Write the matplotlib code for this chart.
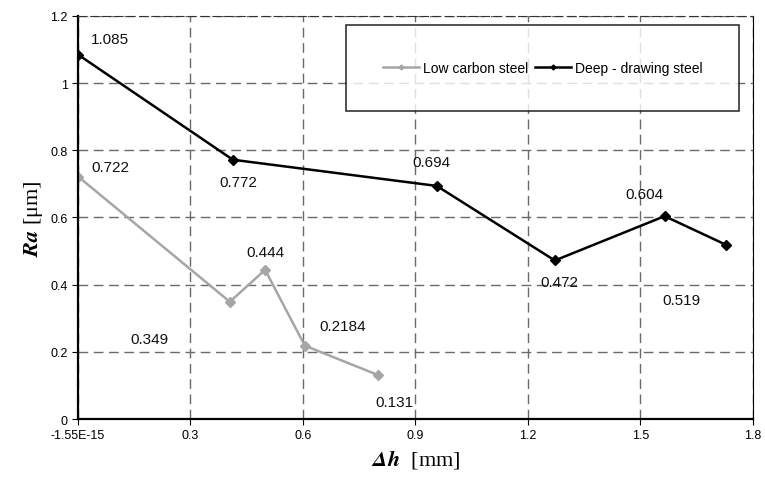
import matplotlib.pyplot as plt

# data
x_low = [0.0, 0.405, 0.499, 0.605, 0.8]
ra_low = [0.722, 0.349, 0.444, 0.2184, 0.131]
x_deep = [0.0, 0.413, 0.957, 1.272, 1.565, 1.728]
ra_deep = [1.085, 0.772, 0.694, 0.472, 0.604, 0.519]

xticks = [0, 0.3, 0.6, 0.9, 1.2, 1.5, 1.8]
xtick_labels = ['-1.55E-15', '0.3', '0.6', '0.9', '1.2', '1.5', '1.8']
yticks = [0, 0.2, 0.4, 0.6, 0.8, 1.0, 1.2]
ytick_labels = ['0', '0.2', '0.4', '0.6', '0.8', '1', '1.2']

# label offsets in pixels (dx, dy)
off_low = [(32, 10), (-80, -37), (0, 18), (38, 20), (17, -27)]
off_deep = [(32, 16), (5, -22), (-5, 24), (5, -22), (-20, 22), (-44, -55)]

plt.rcParams['font.family'] = ['Liberation Sans', 'DejaVu Sans']
plt.rcParams['mathtext.fontset'] = 'stix'

fig = plt.figure(figsize=(7.65, 4.85), dpi=100)
ax = fig.add_axes([0.102, 0.134, 0.882, 0.831])

ax.plot(x_low, ra_low, color='#a6a6a6', lw=1.8, marker='D', ms=5,
        label='Low carbon steel')
ax.plot(x_deep, ra_deep, color='black', lw=1.8, marker='D', ms=5,
        label='Deep - drawing steel')

for xs, ys, offs in [(x_low, ra_low, off_low), (x_deep, ra_deep, off_deep)]:
    for xv, yv, (dx, dy) in zip(xs, ys, offs):
        ax.annotate(f'{yv:g}', (xv, yv), xytext=(dx, dy),
                    textcoords='offset pixels', ha='center', va='center',
                    fontsize=11, color='#111111')

ax.set_xlim(0, 1.8)
ax.set_ylim(0, 1.2)
ax.set_xticks(xticks)
ax.set_xticklabels(xtick_labels)
ax.set_yticks(yticks)
ax.set_yticklabels(ytick_labels)
ax.tick_params(labelsize=9, length=4, direction='out')

ax.grid(True, color='#6a6a6a', ls=(0, (7, 4)), lw=1.0)
ax.spines['top'].set_linestyle((0, (7, 4)))
ax.spines['top'].set_color('#333333')
for s in ['left', 'bottom']:
    ax.spines[s].set_linewidth(1.6)

ax.set_ylabel(r'$\mathbfit{Ra}$ [μm]', fontsize=16, family='Liberation Serif')
ax.set_xlabel(r'$\mathbfit{Δh}$  [mm]', fontsize=16, family='Liberation Serif')

leg = ax.legend(loc='upper right', ncol=2, fontsize=10, frameon=True,
                fancybox=False, edgecolor='black', borderpad=2.6,
                handlelength=2.6, columnspacing=0.5, handletextpad=0.3,
                markerscale=0.5, bbox_to_anchor=(0.99, 0.995))
leg.get_frame().set_linewidth(1.2)

plt.savefig('out.png', dpi=100)
